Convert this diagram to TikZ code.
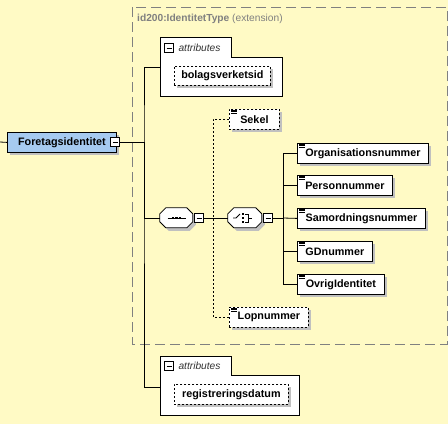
\documentclass[tikz,border=0pt]{standalone}
\usepackage{fontspec}
\setmainfont{Liberation Sans}
\usetikzlibrary{shadows}
\definecolor{bg}{RGB}{255,250,197}
\definecolor{blu}{RGB}{166,202,240}
\definecolor{shd}{RGB}{192,192,192}
\definecolor{extgray}{RGB}{128,128,128}
\newcommand{\myocta}[2]{%
  \fill[shd] ([shift={(9,3)}]#1.north west) -- ++({#2-12},0) -- ++(6,6) -- ++(0,8) -- ++(-6,6)
     -- ++({12-#2},0) -- ++(-6,-6) -- ++(0,-8) -- cycle;
  \draw[fill=white,line width=0.8pt] ([shift={(6,0)}]#1.north west) -- ++({#2-12},0) -- ++(6,6) -- ++(0,8) -- ++(-6,6)
     -- ++({12-#2},0) -- ++(-6,-6) -- ++(0,-8) -- cycle;}
\begin{document}
\begin{tikzpicture}[x=1pt,y=-1pt,
  shdw/.style={drop shadow={shadow xshift=3pt,shadow yshift=-3pt,fill=shd,opacity=1}},
  elem/.style={draw=black,fill=white,line width=0.8pt,minimum height=20pt,inner sep=0pt,
    anchor=north west,font=\fontsize{10.8}{12}\selectfont\bfseries,shdw},
  opt/.style={elem,dash pattern=on 2pt off 2pt},
  minusbox/.style={draw=black,fill=white,minimum size=9pt,inner sep=0pt,line width=0.6pt,
    path picture={\draw[line width=0.7pt] ([xshift=2pt]path picture bounding box.west) -- ([xshift=-2pt]path picture bounding box.east);}},
  octaframe/.style={draw=none,minimum height=20pt,inner sep=0pt},
  conn/.style={line width=0.8pt},
  dconn/.style={line width=0.8pt,dash pattern=on 2pt off 2pt},
  attrlbl/.style={anchor=west,font=\fontsize{10.2}{12}\selectfont\itshape,text=black!80},
  grp/.style={draw=black,fill=white,line width=0.8pt}
]
\fill[bg] (0,0) rectangle (448,424);
\useasboundingbox (0,0) rectangle (448,424);

% extension frame
\draw[extgray,line width=0.8pt,dash pattern=on 10pt off 5pt] (132,7) rectangle (447,344);
\node[anchor=west,text=extgray,font=\fontsize{10.2}{12}\selectfont,inner sep=0pt] (extlbl) at (137,19)
  {\textbf{id200:IdentitetType} (extension)};

% root element
\node[elem,fill=blu,minimum width=109pt] (root) at (7,132) {Foretagsidentitet};
\node[minusbox] (rootm) at (115,142) {};
\coordinate (lstub) at (0,142);
\coordinate (bus) at (144,142);
\coordinate (a1in) at (160,67);
\coordinate (a2in) at (160,387);

% attributes group 1
\draw[grp] (160,37) -- (231,37) -- (231,57) -- (282,57) -- (282,96) -- (160,96) -- cycle;
\node[minusbox] (a1m) at (169,48) {};
\node[attrlbl] (a1l) at (175,48) {attributes};
\node[opt,minimum width=96pt,minimum height=19pt] (bolag) at (174,66) {bolagsverketsid};

% attributes group 2
\draw[grp] (160,356) -- (231,356) -- (231,375) -- (299,375) -- (299,415) -- (160,415) -- cycle;
\node[minusbox] (a2m) at (169,366) {};
\node[attrlbl] (a2l) at (175,366) {attributes};
\node[opt,minimum width=114pt] (regis) at (174,384) {registreringsdatum};

% sequence and choice compositors
\node[octaframe,minimum width=33pt] (seq) at (176.5,218) {};
\myocta{seq}{33}
\node[minusbox] (seqm) at (199,218) {};
\node[octaframe,minimum width=34pt] (choice) at (245,218) {};
\myocta{choice}{34}
\node[minusbox] (choicem) at (268,218) {};

% sequence symbol
\draw[line width=0.8pt] ([xshift=-9pt]seq.center) -- ([xshift=9pt]seq.center);
\foreach \dx in {-3.5,0,3.5} \fill ([xshift=\dx pt]seq.center) ++(-1.3,-1.3) rectangle ++(2.6,2.6);
% choice symbol
\draw[line width=0.8pt] ([xshift=-12pt]choice.center) -- ([xshift=-9pt]choice.center) -- ([xshift=-5pt,yshift=4pt]choice.center);
\foreach \dy in {-4,0,4} \fill ([xshift=-2pt,yshift=\dy pt]choice.center) ++(-1.2,-1.2) rectangle ++(2.4,2.4);
\draw[line width=0.8pt] ([xshift=0pt,yshift=4pt]choice.center) -- ([xshift=3pt,yshift=4pt]choice.center)
  -- ([xshift=3pt,yshift=-4pt]choice.center) -- ([xshift=0pt,yshift=-4pt]choice.center);
\draw[line width=0.8pt] ([xshift=3pt]choice.center) -- ([xshift=7pt]choice.center);

% child elements
\node[opt,minimum width=50pt] (sekel) at (229,109) {Sekel};
\node[elem,minimum width=131pt] (org) at (297,143) {Organisationsnummer};
\node[elem,minimum width=95pt] (pers) at (297,175) {Personnummer};
\node[elem,minimum width=128pt] (samord) at (297,208) {Samordningsnummer};
\node[elem,minimum width=75pt] (gd) at (297,241) {GDnummer};
\node[elem,minimum width=87pt] (ovr) at (297,274) {OvrigIdentitet};
\node[opt,minimum width=79pt] (lop) at (229,307) {Lopnummer};

\foreach \n in {sekel,org,pers,samord,gd,ovr,lop}{
  \foreach \i in {0,1,2}
    \draw[line width=0.6pt] ([xshift=2pt,yshift=-0.8pt-\i*1.6pt]\n.north west) -- ++(6,0);
}

% connectors
\coordinate (dmid) at (213,218);
\coordinate (cbus) at (283,218);
\draw[conn] (lstub) -- (root.west);
\draw[conn] (rootm.east) -- (bus);
\draw[conn] (a1in) -| (bus) |- (a2in);
\draw[conn] (bus) |- (seq.west);
\draw[conn] (seqm.east) -- (choice.west);
\draw[dconn] (sekel.west) -| (dmid) |- (lop.west);
\draw[conn] (choicem.east) -- (cbus);
\draw[conn] (org.west) -| (cbus) |- (ovr.west);
\draw[conn] (pers.west) -| (cbus);
\draw[conn] (samord.west) -- (cbus);
\draw[conn] (gd.west) -| (cbus);
\end{tikzpicture}
\end{document}
